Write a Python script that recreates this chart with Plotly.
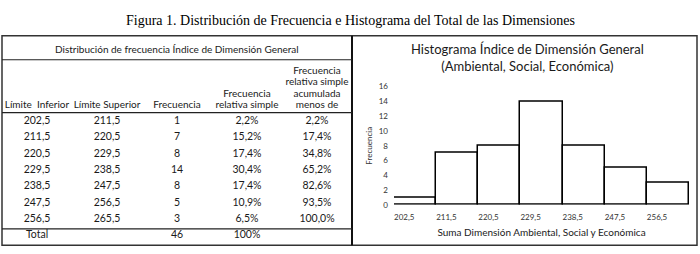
import plotly.graph_objects as go

# ---------------- data ----------------
lower = [202.5, 211.5, 220.5, 229.5, 238.5, 247.5, 256.5]
upper = [211.5, 220.5, 229.5, 238.5, 247.5, 256.5, 265.5]
freq = [1, 7, 8, 14, 8, 5, 3]
rel_simple = ["2,2%", "15,2%", "17,4%", "30,4%", "17,4%", "10,9%", "6,5%"]
rel_cum = ["2,2%", "17,4%", "34,8%", "65,2%", "82,6%", "93,5%", "100,0%"]
total_label = "Total"
total_freq = 46
total_rel = "100%"
header_lines = [
    ["Límite\u00a0\u00a0Inferior"],
    ["Límite Superior"],
    ["Frecuencia"],
    ["Frecuencia", "relativa simple"],
    ["Frecuencia", "relativa simple", "acumulada", "menos de"],
]
tick_labels = ["202,5", "211,5", "220,5", "229,5", "238,5", "247,5", "256,5"]
bin_width = 9

fig_title = "Figura 1. Distribución de Frecuencia e Histograma del Total de las Dimensiones"
table_title = "Distribución de frecuencia Índice de Dimensión General"
chart_title = "Histograma Índice de Dimensión General<br>(Ambiental, Social, Económica)"
x_title = "Suma Dimensión Ambiental, Social y Económica"
y_title = "Frecuencia"

W, H = 700, 254
def px(x):
    return x / W
def py(y):
    return 1 - y / H

fmt = lambda v: f"{v:.1f}".replace(".", ",")

FONT = "Lato"
txt_color = "#1a1a1a"

# ------------- table cells as text marks on a hidden axis -------------
columns = [
    [fmt(v) for v in lower] + [total_label],
    [fmt(v) for v in upper] + [""],
    [str(v) for v in freq] + [str(total_freq)],
    rel_simple + [total_rel],
    rel_cum + [""],
]
cx, cy, ct = [], [], []
for ci, col in enumerate(columns):
    for ri, val in enumerate(col):
        if val:
            cx.append(ci + 0.5)
            cy.append(ri)
            ct.append(val)

ROW_PX = 17.0
HDR_LINE_PX = 12.0
hx, hy, ht = [], [], []
for ci, lines in enumerate(header_lines):
    for k, line in enumerate(reversed(lines)):
        hx.append(ci + 0.5)
        hy.append(-0.94 - k * HDR_LINE_PX / ROW_PX)
        ht.append(line)

fig = go.Figure()

fig.add_trace(go.Scatter(
    x=hx, y=hy, text=ht, mode="text", textposition="middle center",
    textfont=dict(family=FONT, size=10, color=txt_color),
    xaxis="x2", yaxis="y2", showlegend=False, hoverinfo="skip", cliponaxis=False,
))
fig.add_trace(go.Scatter(
    x=cx, y=cy, text=ct, mode="text", textposition="middle center",
    textfont=dict(family=FONT, size=10.5, color=txt_color),
    xaxis="x2", yaxis="y2", showlegend=False, hoverinfo="skip", cliponaxis=False,
))

fig.add_trace(go.Bar(
    x=lower, y=freq, width=[bin_width] * len(lower), offset=0,
    marker=dict(color="white", line=dict(color="black", width=1.5)),
    xaxis="x", yaxis="y", showlegend=False,
))

y2_bottom = (250 - 121) / ROW_PX
y2_top = (32 - 121) / ROW_PX

fig.update_layout(
    width=W, height=H,
    margin=dict(l=0, r=0, t=0, b=0),
    paper_bgcolor="white", plot_bgcolor="rgba(0,0,0,0)",
    bargap=0,
    xaxis=dict(domain=[px(394), px(689)], range=[lower[0], upper[-1]],
               tickvals=lower, ticktext=tick_labels, ticks="",
               ticklabelposition="outside right", ticklabelstandoff=6,
               tickfont=dict(family=FONT, size=8, color="#333"),
               showgrid=False, zeroline=False, showline=False,
               title=dict(text=x_title, font=dict(family=FONT, size=10, color=txt_color),
                          standoff=8)),
    yaxis=dict(domain=[py(208), py(85)], range=[0, 16], dtick=2,
               tickfont=dict(family=FONT, size=8, color="#333"),
               ticklabelstandoff=5,
               showgrid=False, zeroline=False, showline=False, ticks="",
               title=dict(text=y_title, font=dict(family=FONT, size=8, color="#333"),
                          standoff=4)),
    xaxis2=dict(domain=[px(2), px(352)], range=[0, 5], visible=False,
                anchor="y2", showgrid=False, zeroline=False),
    yaxis2=dict(domain=[py(250), py(32)], range=[y2_bottom, y2_top], visible=False,
                anchor="x2", showgrid=False, zeroline=False),
)

shapes = []
line_dark = dict(color="#222", width=1.2)
shapes.append(dict(type="rect", xref="paper", yref="paper",
                   x0=px(2), x1=px(697), y0=py(250), y1=py(32),
                   line=dict(color="#333", width=1.5)))
shapes.append(dict(type="line", xref="paper", yref="paper",
                   x0=px(352), x1=px(352), y0=py(250), y1=py(32),
                   line=dict(color="#111", width=2)))
for yy in [57, 112, 233]:
    shapes.append(dict(type="line", xref="paper", yref="paper",
                       x0=px(2), x1=px(352), y0=py(yy), y1=py(yy), line=line_dark))
fig.update_layout(shapes=shapes)

annotations = [
    dict(text=fig_title, x=0.5, y=py(16), xref="paper", yref="paper",
         xanchor="center", yanchor="middle", showarrow=False,
         font=dict(family="Liberation Serif", size=14, color="black")),
    dict(text=table_title, x=px(177), y=py(46), xref="paper", yref="paper",
         xanchor="center", yanchor="middle", showarrow=False,
         font=dict(family=FONT, size=10, color=txt_color)),
    dict(text=chart_title, x=px(527), y=py(54.5), xref="paper", yref="paper",
         xanchor="center", yanchor="middle", showarrow=False,
         font=dict(family=FONT, size=13, color=txt_color)),
]
fig.update_layout(annotations=annotations)

fig.write_html("out.html")
